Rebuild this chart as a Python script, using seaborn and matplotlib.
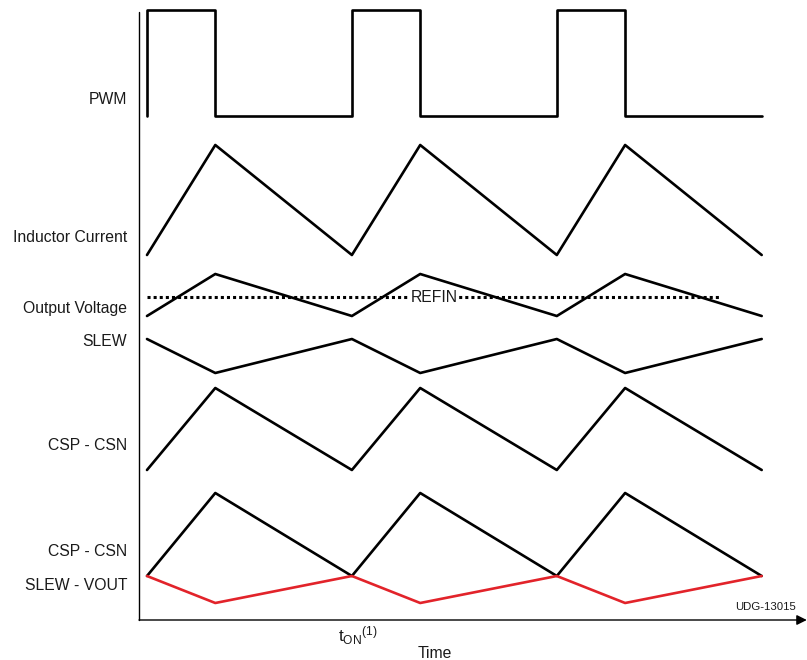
import numpy as np
import pandas as pd
import matplotlib
matplotlib.use("Agg")
import matplotlib.pyplot as plt
import seaborn as sns

sns.set_style("white")
plt.rcParams['font.family'] = ['Liberation Sans', 'DejaVu Sans']
plt.rcParams['mathtext.fontset'] = 'custom'
plt.rcParams['mathtext.rm'] = 'Liberation Sans'
plt.rcParams['mathtext.it'] = 'Liberation Sans'

# time in units of t_ON, period = 3 t_ON
t_tri = [0, 1, 3, 4, 6, 7, 9]
t_pwm = [0, 0, 1, 1, 3, 3, 4, 4, 6, 6, 7, 7, 9]

# levels (arbitrary vertical units)
pwm = [544, 650, 650, 544, 544, 650, 650, 544, 544, 650, 650, 544, 544]
inductor = [405, 515, 405, 515, 405, 515, 405]
vout = [344, 386, 344, 386, 344, 386, 344]
slew = [321, 287, 321, 287, 321, 287, 321]
csp_csn = [190, 272, 190, 272, 190, 272, 190]
csp_csn2 = [84, 167, 84, 167, 84, 167, 84]
slew_vout = [84, 57, 84, 57, 84, 57, 84]
refin_t = [0, 8.4]
refin = [363, 363]

labels = ["PWM", "Inductor Current", "Output Voltage", "SLEW",
          "CSP - CSN", "CSP - CSN", "SLEW - VOUT"]
label_y = [560, 422, 352, 319, 215, 109, 75]

fig = plt.figure(figsize=(8.07, 6.6), dpi=100)
ax = fig.add_axes([0, 0, 1, 1])
ax.set_xlim(-2.152, 9.663)
ax.set_ylim(0, 660)
ax.axis('off')

lw = 1.9
fs = 11.3
tc = '#1a1a1a'
sns.lineplot(x=t_pwm, y=pwm, estimator=None, sort=False, color='black', lw=lw, ax=ax)
for sig in [inductor, vout, slew, csp_csn, csp_csn2]:
    sns.lineplot(x=t_tri, y=sig, estimator=None, sort=False, color='black', lw=lw, ax=ax)
sns.lineplot(x=t_tri, y=slew_vout, estimator=None, sort=False, color='#e2232a', lw=lw, ax=ax)
ax.plot(refin_t, refin, color='black', lw=2.2, ls=(0, (1, 1)))
ax.text(4.2, 363, "REFIN", ha='center', va='center', fontsize=fs, color=tc,
        bbox=dict(facecolor='white', edgecolor='none', pad=0.3))

for lab, yy in zip(labels, label_y):
    ax.text(-0.29, yy, lab, ha='right', va='center', fontsize=fs, color=tc)

# axes
ax.plot([-0.117, -0.117], [40, 648], color='black', lw=1.0)
ax.annotate("", xy=(9.66, 40), xytext=(-0.117, 40),
            arrowprops=dict(arrowstyle='-|>,head_length=0.6,head_width=0.3',
                            color='black', lw=1.0, shrinkA=0, shrinkB=0))
ax.text(3.09, 24, r'$\mathrm{t_{ON}}^{(1)}$', ha='center', va='center', fontsize=fs + 1, color=tc)
ax.text(4.22, 6, "Time", ha='center', va='center', fontsize=fs, color=tc)
ax.text(9.05, 53, "UDG-13015", ha='center', va='center', fontsize=8.2, color=tc)

fig.savefig("out.png", dpi=100)
